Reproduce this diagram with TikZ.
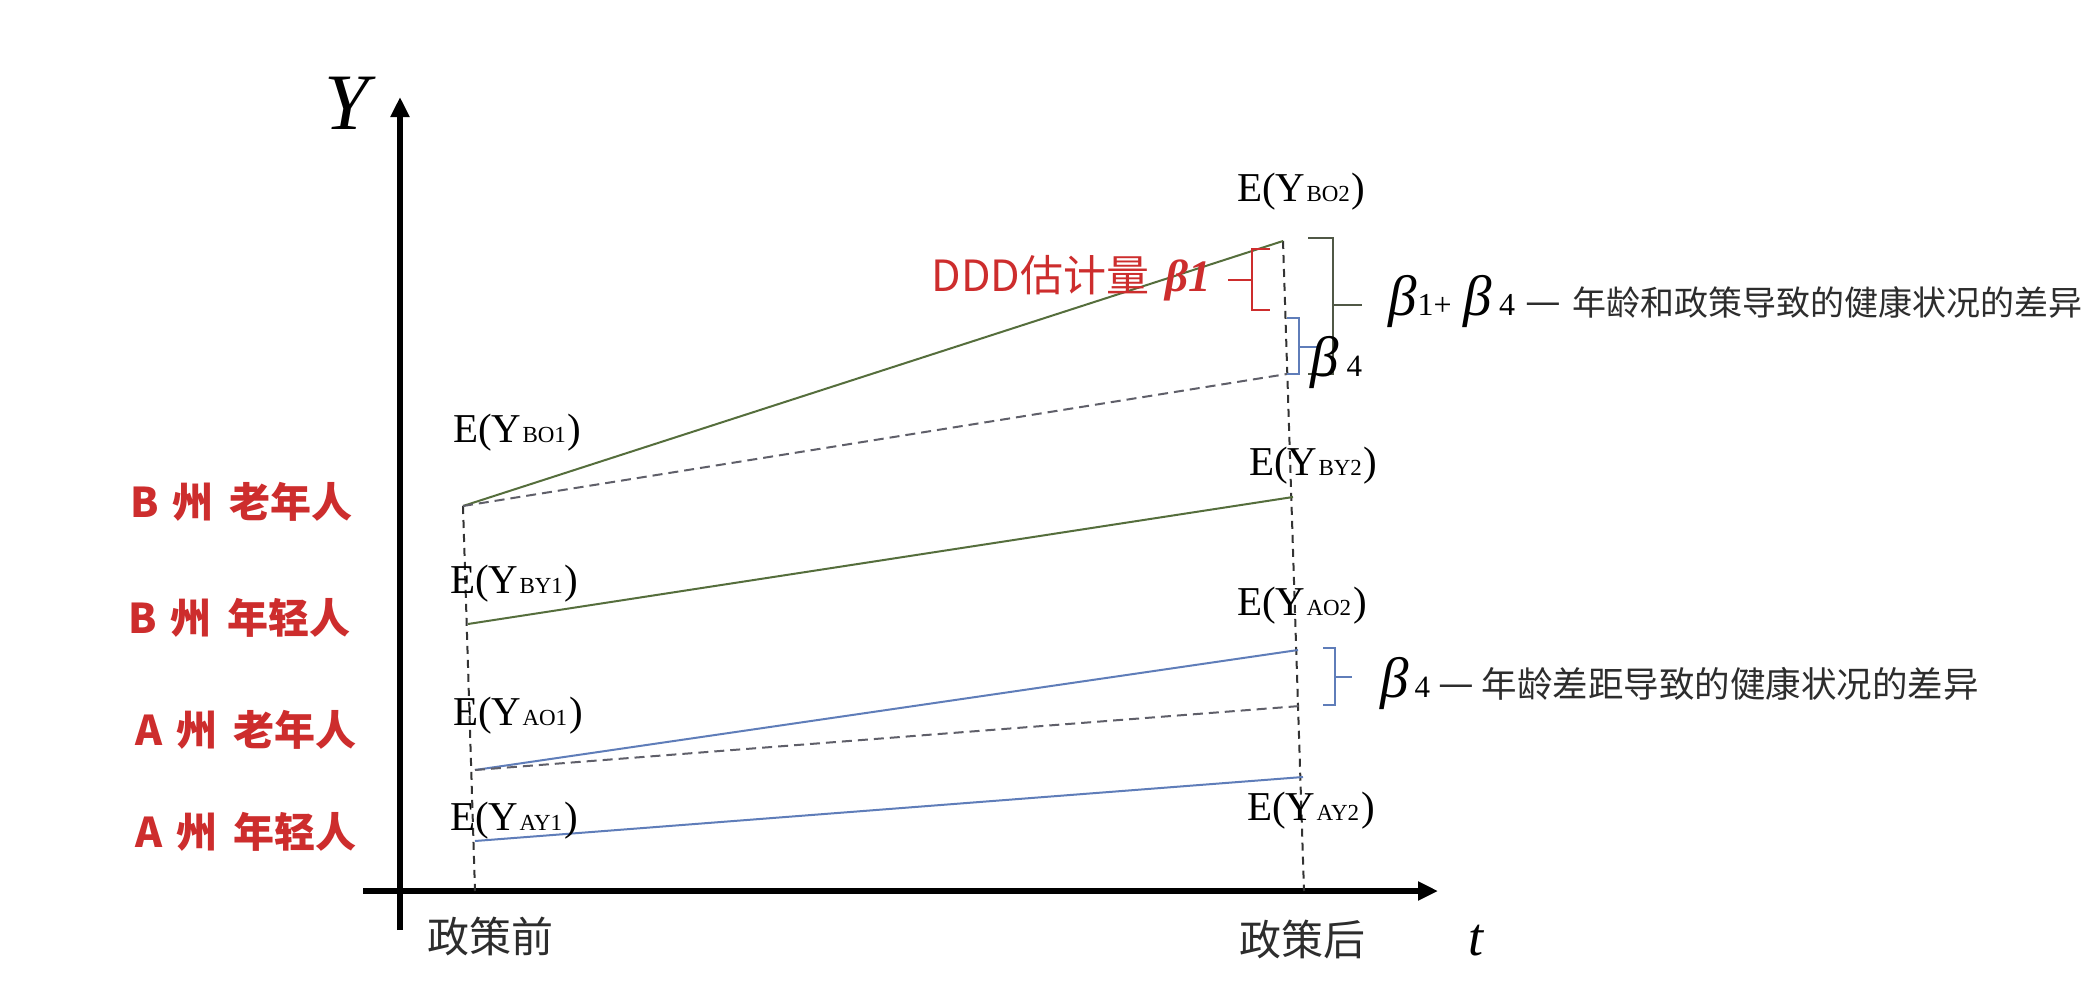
\documentclass[tikz,border=0pt]{standalone}
\usepackage{fontspec}
\newfontfamily\tnr{Liberation Serif}
\newfontfamily\cjk{Noto Sans CJK SC}
\usetikzlibrary{arrows.meta}
\definecolor{gline}{RGB}{85,110,60}
\definecolor{bline}{RGB}{95,125,185}
\definecolor{redc}{RGB}{205,45,45}
\definecolor{cfgray}{RGB}{95,95,105}
\definecolor{txtgray}{RGB}{45,45,45}
\definecolor{brgray}{RGB}{80,88,70}
\newcommand\myfs[1]{\fontsize{#1}{#1}\selectfont}
\newcommand\EY[1]{{\tnr\myfs{41}E(Y\hspace{1pt}{\myfs{23}#1}\hspace{2pt})}}
\tikzset{
  axisline/.style={line width=6pt, black, -{Triangle[length=20pt,width=18pt]}},
  gsolid/.style={gline, line width=2pt},
  bsolid/.style={bline, line width=2pt},
  cfline/.style={cfgray, line width=2pt, dash pattern=on 10pt off 6pt},
  vdashline/.style={black!80, line width=2pt, dash pattern=on 8pt off 6pt},
  lab/.style={inner sep=0pt, anchor=base west},
  brk/.style={line width=2pt},
}
\begin{document}
\begin{tikzpicture}[x=1pt,y=-1pt]
\fill[white] (0,0) rectangle (2098,982);
\useasboundingbox (0,0) rectangle (2098,982);
% points
\coordinate (BO1) at (463,506);
\coordinate (BO2) at (1283,241);
\coordinate (BOc) at (1287,374);
\coordinate (BY1) at (468,624);
\coordinate (BY2) at (1293,497);
\coordinate (AO1) at (475,770);
\coordinate (AO2) at (1298,650);
\coordinate (AOc) at (1300,706);
\coordinate (AY1) at (475,841);
\coordinate (AY2) at (1303,777);
\coordinate (L0) at (475,891);
\coordinate (R0) at (1304,891);
\coordinate (Ybot) at (400,930);
\coordinate (Ytop) at (400,97);
\coordinate (Xl) at (363,891);
\coordinate (Xr) at (1438,891);
% axes
\draw[axisline] (Ybot) -- (Ytop);
\draw[axisline] (Xl) -- (Xr);
% vertical dashed guides
\draw[vdashline] (BO1) -- (L0);
\draw[vdashline] (BO2) -- (R0);
% data lines
\draw[gsolid] (BO1) -- (BO2);
\draw[cfline] (BO1) -- (BOc);
\draw[gsolid] (BY1) -- (BY2);
\draw[bsolid] (AO1) -- (AO2);
\draw[cfline] (AO1) -- (AOc);
\draw[bsolid] (AY1) -- (AY2);
% brackets
\coordinate (rb1) at (1270,249); \coordinate (rb2) at (1252,249);
\coordinate (rb3) at (1252,310); \coordinate (rb4) at (1270,310);
\coordinate (rbm) at (1252,280); \coordinate (rbt) at (1228,280);
\draw[brk, redc] (rb1) -- (rb2) -- (rb3) -- (rb4);
\draw[brk, redc] (rbm) -- (rbt);
\coordinate (sb1) at (1287,318); \coordinate (sb2) at (1299,318);
\coordinate (sb3) at (1299,374); \coordinate (sb4) at (1287,374);
\coordinate (sbm) at (1299,347); \coordinate (sbt) at (1317,347);
\draw[brk, bline] (sb1) -- (sb2) -- (sb3) -- (sb4);
\draw[brk, bline] (sbm) -- (sbt);
\coordinate (gb1) at (1308,238); \coordinate (gb2) at (1333,238);
\coordinate (gb3) at (1333,374); \coordinate (gb4) at (1308,374);
\coordinate (gbm) at (1333,305); \coordinate (gbt) at (1362,305);
\draw[brk, brgray] (gb1) -- (gb2) -- (gb3) -- (gb4);
\draw[brk, brgray] (gbm) -- (gbt);
\coordinate (lb1) at (1323,648); \coordinate (lb2) at (1335,648);
\coordinate (lb3) at (1335,705); \coordinate (lb4) at (1323,705);
\coordinate (lbm) at (1335,677); \coordinate (lbt) at (1352,677);
\draw[brk, bline] (lb1) -- (lb2) -- (lb3) -- (lb4);
\draw[brk, bline] (lbm) -- (lbt);
% axis labels
\node[lab] (ylab) at (324,129) {\tnr\myfs{80}\itshape Y};
\node[lab] (tlab) at (1468,955) {\tnr\myfs{54}\itshape t};
\node[lab, txtgray] (pre) at (427,952) {\cjk\myfs{42}政策前};
\node[lab, txtgray] (post) at (1239,955) {\cjk\myfs{42}政策后};
% group labels
\node[lab, redc] (g1) at (130,517) {\cjk\bfseries\myfs{41}B\hspace{14pt}州\hspace{16pt}老年人};
\node[lab, redc] (g2) at (128,633) {\cjk\bfseries\myfs{41}B\hspace{14pt}州\hspace{16pt}年轻人};
\node[lab, redc] (g3) at (135,745) {\cjk\bfseries\myfs{41}A\hspace{14pt}州\hspace{16pt}老年人};
\node[lab, redc] (g4) at (135,847) {\cjk\bfseries\myfs{41}A\hspace{14pt}州\hspace{16pt}年轻人};
% point labels
\node[lab] (tBO1) at (453,442) {\EY{BO1}};
\node[lab] (tBY1) at (450,593) {\EY{BY1}};
\node[lab] (tAO1) at (453,725) {\EY{AO1}};
\node[lab] (tAY1) at (450,830) {\EY{AY1}};
\node[lab] (tBO2) at (1237,201) {\EY{BO2}};
\node[lab] (tBY2) at (1249,475) {\EY{BY2}};
\node[lab] (tAO2) at (1237,615) {\EY{AO2}};
\node[lab] (tAY2) at (1247,820) {\EY{AY2}};
% DDD label
\node[inner sep=0pt, anchor=base east, redc] (ddd) at (1211,291)
  {\cjk\myfs{43}DDD估计量\hspace{16pt}{\tnr\bfseries\itshape\myfs{45}β1}};
% beta labels
\node[lab] (b4a) at (1310,376) {\tnr\myfs{57}\itshape β\upshape\myfs{31}\hspace{8pt}4};
\node[lab] (b14) at (1388,315) {\tnr\myfs{57}\itshape β\upshape\myfs{32}\hspace{1pt}1+\hspace{12pt}\myfs{57}\itshape β\upshape\myfs{32}\hspace{7pt}4\hspace{10pt}\color{txtgray}\cjk\myfs{40}—\hspace{12pt}\myfs{34}年龄和政策导致的健康状况的差异};
\node[lab] (b4b) at (1380,697) {\tnr\myfs{57}\itshape β\upshape\myfs{31}\hspace{6pt}4\hspace{8pt}\color{txtgray}\cjk\myfs{40}—\hspace{8pt}\myfs{35.5}年龄差距导致的健康状况的差异};
\end{tikzpicture}
\end{document}
